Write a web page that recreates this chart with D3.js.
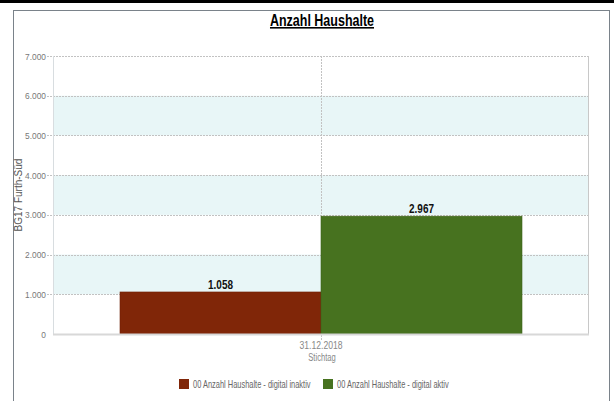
<!DOCTYPE html>
<html>
<head>
<meta charset="utf-8">
<script src="https://cdn.jsdelivr.net/npm/d3@7"></script>
<style>
  body { margin: 0; background: #fff; }
  svg { display: block; }
  text { font-family: 'Liberation Sans', Arial, sans-serif; }
</style>
</head>
<body>
<svg id="chart" width="614" height="401"></svg>
<script>
const categories = ["31.12.2018"]
const seriesNames = ["00 Anzahl Haushalte - digital inaktiv", "00 Anzahl Haushalte - digital aktiv"]
const seriesValues = [[1058], [2967]]
const seriesColors = ["#802608", "#47721f"]
const yTicks = [0, 1000, 2000, 3000, 4000, 5000, 6000, 7000]

const dims = {
  width: 614,
  height: 401,
  margin: {top: 56, left: 53, right: 25, bottom: 67}
}
const fmt = d => d3.format(",")(d).replace(/,/g, ".")

// the source uses a narrow face; squeeze the installed one to fit
const squeeze = (sel, k) => sel.each(function () {
  const w = this.getComputedTextLength()
  d3.select(this).attr("textLength", w * k).attr("lengthAdjust", "spacingAndGlyphs")
})

const svg = d3.select("#chart")

// top strip and outer frame
svg.append("rect").attr("x", 0).attr("y", 0).attr("width", dims.width).attr("height", 3).attr("fill", "#000")
svg.append("rect").attr("x", 13.5).attr("y", 10.5).attr("width", 596).attr("height", 400)
  .attr("fill", "none").attr("stroke", "#7a828a").attr("stroke-width", 1)

svg.append("text")
  .attr("x", 322).attr("y", 26)
  .attr("text-anchor", "middle")
  .style("font-weight", "bold").style("font-size", "16px")
  .style("text-decoration", "underline")
  .text("Anzahl Haushalte")
  .call(squeeze, 0.78)

const x0 = dims.margin.left, x1 = dims.width - dims.margin.right
const y0 = dims.height - dims.margin.bottom, y1 = dims.margin.top

const yScale = d3.scaleLinear().domain([0, 7000]).range([y0, y1])
const xScale = d3.scaleBand().domain(categories).range([x0, x1]).paddingInner(0).paddingOuter(1 / 6)
const xSub = d3.scaleBand().domain(d3.range(seriesNames.length)).range([0, xScale.bandwidth()])

// alternating bands
const g = svg.append("g")
d3.pairs(yTicks).forEach(([a, b], i) => {
  if (i % 2 === 1) {
    g.append("rect")
      .attr("x", x0).attr("width", x1 - x0)
      .attr("y", yScale(b)).attr("height", yScale(a) - yScale(b))
      .attr("fill", "#e8f6f7")
  }
})

// grid lines
g.selectAll(".hgrid")
  .data(yTicks.slice(1))
  .join("line")
    .attr("x1", x0 - 6).attr("x2", x1)
    .attr("y1", d => Math.round(yScale(d)) + 0.5).attr("y2", d => Math.round(yScale(d)) + 0.5)
    .attr("stroke", "#c2c2c2").attr("stroke-dasharray", "2,1")

categories.forEach(c => {
  const cx = Math.round(xScale(c) + xScale.bandwidth() / 2) + 0.5
  g.append("line").attr("x1", cx).attr("x2", cx).attr("y1", y1).attr("y2", y0 + 6)
    .attr("stroke", "#c2c2c2").attr("stroke-dasharray", "2,1")
})

// frame of plot
g.append("line").attr("x1", x0 + 0.5).attr("x2", x0 + 0.5).attr("y1", y1).attr("y2", y0).attr("stroke", "#d8dde0")
g.append("line").attr("x1", x1 - 0.5).attr("x2", x1 - 0.5).attr("y1", y1).attr("y2", y0).attr("stroke", "#c8c8c8")

// bars
seriesNames.forEach((name, si) => {
  categories.forEach((c, ci) => {
    const v = seriesValues[si][ci]
    const bx = xScale(c) + xSub(si)
    g.append("rect")
      .attr("x", bx).attr("width", xSub.bandwidth())
      .attr("y", yScale(v)).attr("height", yScale(0) - yScale(v))
      .attr("fill", seriesColors[si])
      .attr("stroke", d3.color(seriesColors[si]).darker(0.4)).attr("stroke-width", 0.6)
    g.append("text")
      .attr("x", bx + xSub.bandwidth() / 2).attr("y", yScale(v) - 3)
      .attr("text-anchor", "middle")
      .style("font-weight", "bold").style("font-size", "12px")
      .attr("fill", "#111")
      .text(fmt(v))
      .call(squeeze, 0.83)
  })
})

g.append("line").attr("x1", x0).attr("x2", x1).attr("y1", y0 + 0.5).attr("y2", y0 + 0.5)
  .attr("stroke", "#d8d8d8").attr("stroke-width", 2)

// y axis
const yAxis = svg.append("g")
  .attr("transform", `translate(${x0 - 7},0)`)
  .call(d3.axisLeft(yScale).tickValues(yTicks).tickFormat(fmt).tickSize(0).tickPadding(0))
yAxis.select(".domain").remove()
yAxis.selectAll("text").attr("fill", "#777").style("font-size", "9.5px").call(squeeze, 0.88)

svg.append("text")
  .attr("transform", "translate(22,195) rotate(-90)")
  .attr("text-anchor", "middle")
  .attr("fill", "#555")
  .style("font-size", "10px")
  .text("BG17 Furth-Süd")

// x axis
const xAxis = svg.append("g")
  .attr("transform", `translate(0,${y0})`)
  .call(d3.axisBottom(xScale).tickSize(0).tickPadding(8))
xAxis.select(".domain").remove()
xAxis.selectAll("text").attr("fill", "#888").style("font-size", "10px").call(squeeze, 0.86)

svg.append("text")
  .attr("x", 322).attr("y", 361)
  .attr("text-anchor", "middle")
  .attr("fill", "#888")
  .style("font-size", "10px")
  .text("Stichtag")
  .call(squeeze, 0.76)

// legend
const legendX = [179, 323]
seriesNames.forEach((name, i) => {
  const lg = svg.append("g").attr("transform", `translate(${legendX[i]},379)`)
  lg.append("rect").attr("width", 10).attr("height", 10).attr("fill", seriesColors[i])
  lg.append("text")
    .attr("transform", "translate(14,9) scale(0.71,1)")
    .attr("fill", "#666")
    .style("font-size", "10.5px")
    .text(name)
})
</script>
</body>
</html>
